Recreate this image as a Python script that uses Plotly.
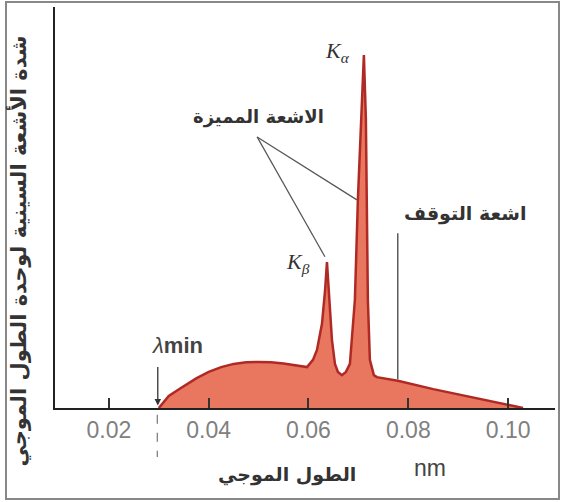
import plotly.graph_objects as go

# spectrum (wavelength nm, relative intensity)
wavelength = [0.030, 0.032, 0.0342, 0.0375, 0.040, 0.0425, 0.045, 0.0475, 0.050,
              0.0525, 0.055, 0.058, 0.0597,
              0.0609, 0.0617, 0.0627, 0.0633, 0.0637, 0.0643, 0.0647, 0.0653,
              0.0659, 0.0667, 0.0675, 0.0683, 0.0693, 0.0699, 0.0705, 0.0711,
              0.0715, 0.0717, 0.0719, 0.0723, 0.0731, 0.0737, 0.0779, 0.085,
              0.090, 0.095, 0.100, 0.103]
intensity = [0, 3.0, 4.8, 7.4, 9.0, 10.2, 11.0, 11.4, 11.5,
             11.4, 11.1, 10.6, 10.2,
             12.0, 14.5, 21.0, 29.0, 36.4, 25.0, 17.0, 11.0,
             9.0, 8.2, 9.0, 11.0, 27.0, 52.0, 72.0, 88.0,
             72.0, 52.0, 27.0, 12.0, 8.2, 7.7, 6.8, 4.7,
             3.4, 2.0, 0.75, 0]

tick_vals = [0.02, 0.04, 0.06, 0.08, 0.10]
tick_text = ["0.02", "0.04", "0.06", "0.08", "0.10"]

arabic = "DejaVu Sans"

fig = go.Figure()
fig.add_trace(go.Scatter(
    x=wavelength, y=intensity, mode="lines",
    line=dict(color="#b02a25", width=2.5),
    fill="tozeroy", fillcolor="#e9765e",
    hoverinfo="skip", showlegend=False,
))

fig.update_xaxes(
    range=[0.0092, 0.1094], tickvals=tick_vals, ticktext=tick_text,
    showline=True, linecolor="#222", linewidth=2,
    ticks="inside", ticklen=10, tickwidth=2, tickcolor="#333",
    tickfont=dict(family="Liberation Sans", size=23, color="#808080"),
    showgrid=False, zeroline=False, fixedrange=True,
)
fig.update_yaxes(
    range=[0, 100], showticklabels=False, ticks="",
    showline=True, linecolor="#222", linewidth=2,
    showgrid=False, zeroline=False, fixedrange=True,
)

ann = []
# y title
ann.append(dict(x=-0.074, y=0.39, xref="paper", yref="paper", textangle=-90,
                xanchor="center", yanchor="middle",
                text="<b>شدة الأشعة السينية لوحدة الطول الموجي</b>",
                font=dict(family=arabic, size=21, color="#333"), showarrow=False))
# x title
ann.append(dict(x=0.464, y=-0.167, xref="paper", yref="paper",
                xanchor="center", yanchor="middle",
                text="<b>الطول الموجي</b>",
                font=dict(family=arabic, size=19, color="#333"), showarrow=False))
ann.append(dict(x=0.75, y=-0.149, xref="paper", yref="paper", text="nm",
                xanchor="center", yanchor="middle",
                font=dict(family="Liberation Sans", size=23, color="#444"), showarrow=False))
# peak labels
ann.append(dict(x=0.0659, y=88.8, text="<i>K</i><sub><i>α</i></sub>",
                font=dict(family="Liberation Serif", size=22, color="#333"), showarrow=False))
ann.append(dict(x=0.0579, y=36.2, text="<i>K</i><sub><i>β</i></sub>",
                font=dict(family="Liberation Serif", size=22, color="#333"), showarrow=False))
ann.append(dict(x=0.0499, y=72.6, text="<b>الاشعة المميزة</b>",
                font=dict(family=arabic, size=18, color="#333"), showarrow=False))
ann.append(dict(x=0.0913, y=48.6, text="<b>اشعة التوقف</b>",
                font=dict(family=arabic, size=19, color="#333"), showarrow=False))
# lambda min
ann.append(dict(x=0.0338, y=15.7, text="<i>λ</i><b>min</b>",
                font=dict(family="Liberation Sans", size=22, color="#444"), showarrow=False))
ann.append(dict(x=0.0298, y=0.6, ax=0, ay=-40, text="", showarrow=True,
                arrowhead=2, arrowsize=1, arrowwidth=1.3, arrowcolor="#333"))

shapes = [
    # pointer lines from the characteristic label
    dict(type="line", x0=0.0497, y0=67.6, x1=0.0697, y1=51.9, line=dict(color="#555", width=1.2)),
    dict(type="line", x0=0.0497, y0=67.6, x1=0.0633, y1=37.7, line=dict(color="#555", width=1.2)),
    # stop-radiation pointer
    dict(type="line", x0=0.0779, y0=43.6, x1=0.0779, y1=7.2, line=dict(color="#333", width=1.2)),
    # dashed lambda-min marker under the axis
    dict(type="line", xref="x", yref="paper", x0=0.0297, x1=0.0297, y0=-0.017, y1=-0.122,
         line=dict(color="#777", width=1.2, dash="dash")),
    # picture frame
    dict(type="rect", xref="paper", yref="paper", x0=-0.098, x1=1.008, y0=-0.227, y1=1.0125,
         line=dict(color="#888", width=2)),
]

fig.update_layout(
    width=562, height=502,
    margin=dict(l=55, r=7, t=7, b=94),
    paper_bgcolor="white", plot_bgcolor="white",
    annotations=ann, shapes=shapes,
)

fig.write_html("out.html", config={"displayModeBar": False},
               post_script="document.body.style.margin='0';document.body.style.overflow='hidden';")
